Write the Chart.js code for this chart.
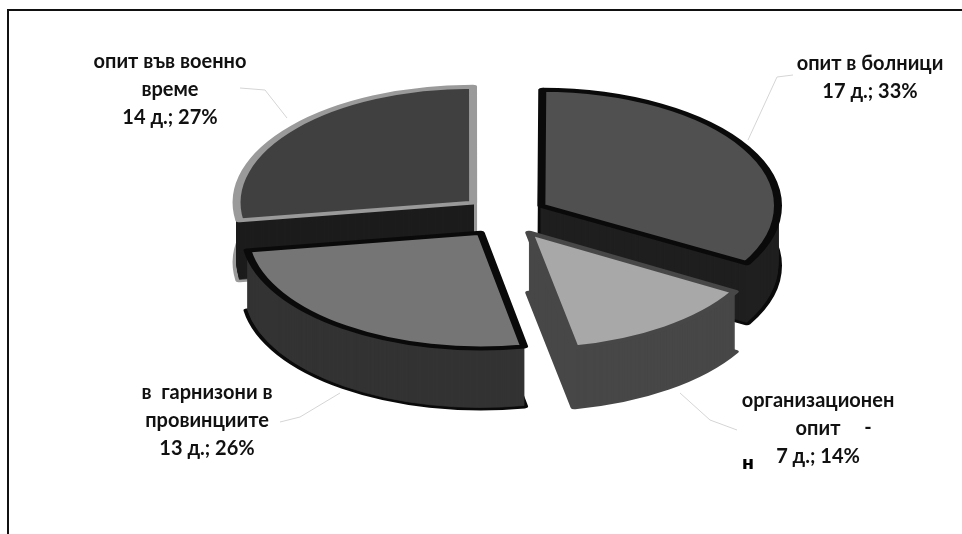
<!doctype html>
<html>
<head>
<meta charset="utf-8">
<title>Опит</title>
<style>
  html, body { margin: 0; background: #fff; overflow: hidden; }
  #frame { position: absolute; left: 7px; top: 9px; right: 0; bottom: 0; border-left: 2px solid #111; border-top: 2px solid #111; }
  #chart { position: absolute; left: 0; top: 0; }
</style>
</head>
<body>
<div id="frame"></div>
<canvas id="chart" width="962" height="534"></canvas>
<script src="https://cdn.jsdelivr.net/npm/chart.js"></script>
<script>
const categories = ['опит в болници', 'организационен опит', 'в гарнизони в провинциите', 'опит във военно време'];
const days = [17, 7, 13, 14];
const percents = ['33%', '14%', '26%', '27%'];
const labelLines = [
  ['опит в болници'],
  ['организационен', 'опит'],
  ['в  гарнизони в', 'провинциите'],
  ['опит във военно', 'време']
];

const topColors = ['#505050', '#a8a8a8', '#757575', '#404040'];
const sideColors = ['#1f1f1f', '#474747', '#333333', '#1c1c1c'];
const rimColors = ['#0a0a0a', '#474747', '#0a0a0a', '#9a9a9a'];
const radiusTrim = [5, 8, 0, 0];

// layout of the fake 3d
const squash = 0.49, depth = 60, centerY = 216, rimWidth = 8;
const drawOrder = [3, 0, 2, 1];
const labelPos = [[870, 64], [818, 401], [207, 393], [170, 62]];
const leaders = [
  [[748, 140], [777, 77], [793, 75]],
  [[680, 393], [710, 420], [737, 430]],
  [[340, 393], [300, 417], [280, 422]],
  [[287, 118], [265, 90], [240, 88]]
];

const pie3d = {
  id: 'pie3d',
  beforeDatasetsDraw(chart) {
    const ctx = chart.ctx;
    const arcs = chart.getDatasetMeta(0).data;
    const cx = arcs[0].x, cy = arcs[0].y;

    const drawArc = (arc, shift, fill, stroke, width) => {
      const saved = arc.options;
      arc.options = Object.assign({}, saved, {
        backgroundColor: fill, borderColor: stroke, borderWidth: width,
        offset: saved.offset, spacing: 0, borderAlign: 'center',
        borderJoinStyle: 'round', borderRadius: 0, circular: true,
        borderDash: [], borderDashOffset: 0
      });
      ctx.save();
      ctx.translate(cx, centerY + shift);
      ctx.scale(1, squash);
      ctx.translate(-cx, -cy);
      arc.draw(ctx);
      ctx.restore();
      arc.options = saved;
    };

    drawOrder.forEach(i => {
      const arc = arcs[i];
      const r = arc.outerRadius;
      arc.outerRadius = r - radiusTrim[i];
      drawArc(arc, depth, sideColors[i], rimColors[i], rimWidth);
      for (let d = depth - 1; d > 0; d--) {
        drawArc(arc, d, sideColors[i], sideColors[i], 1);
      }
      drawArc(arc, 0, topColors[i], rimColors[i], rimWidth);
      arc.outerRadius = r;
    });
    return false;
  },
  afterDraw(chart) {
    const ctx = chart.ctx;
    ctx.save();
    ctx.strokeStyle = '#d5d5d5';
    ctx.lineWidth = 1;
    leaders.forEach(pts => {
      ctx.beginPath();
      pts.forEach((p, k) => k ? ctx.lineTo(p[0], p[1]) : ctx.moveTo(p[0], p[1]));
      ctx.stroke();
    });

    ctx.fillStyle = '#111';
    ctx.font = 'bold 20px Lato';
    ctx.textAlign = 'center';
    ctx.textBaseline = 'middle';
    const lineGap = 28;
    categories.forEach((name, i) => {
      const lines = labelLines[i].concat(days[i] + ' д.; ' + percents[i]);
      lines.forEach((t, k) => ctx.fillText(t, labelPos[i][0], labelPos[i][1] + k * lineGap));
    });
    // stray characters in the scan
    ctx.fillText('-', 868, 428);
    ctx.font = 'bold 18px "DejaVu Sans"';
    ctx.fillStyle = '#000';
    ctx.fillText('н', 748, 464);
    ctx.restore();
  }
};

new Chart(document.getElementById('chart'), {
  type: 'pie',
  data: {
    labels: categories,
    datasets: [{
      data: days,
      backgroundColor: topColors,
      offset: 168
    }]
  },
  options: {
    responsive: false,
    animation: false,
    radius: 236,
    layout: { padding: { left: 48 } },
    plugins: { legend: { display: false }, tooltip: { enabled: false } }
  },
  plugins: [pie3d]
});
</script>
</body>
</html>
